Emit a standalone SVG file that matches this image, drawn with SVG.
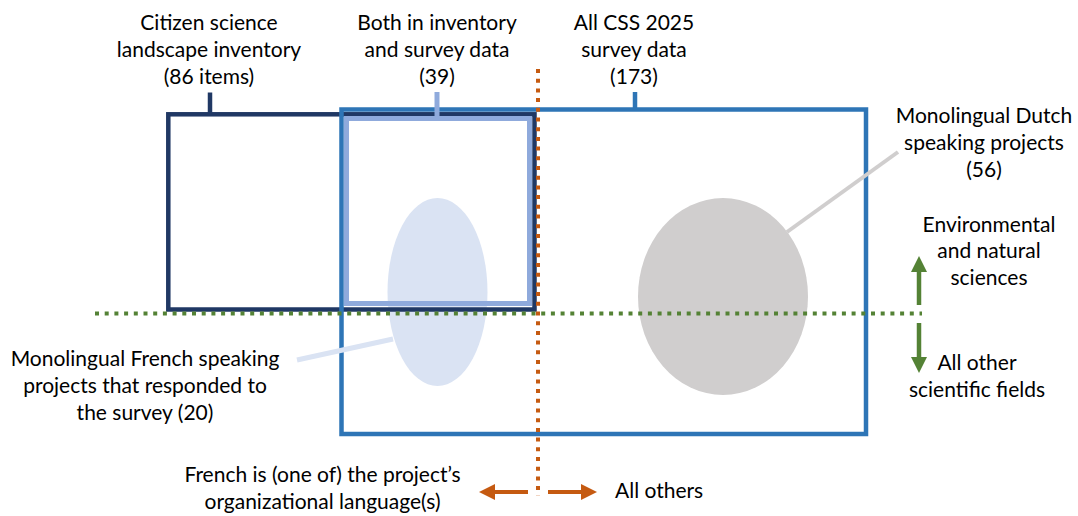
<svg xmlns="http://www.w3.org/2000/svg" width="1078" height="516" viewBox="0 0 1078 516">
  <style>
    text { font-family: Lato, "Open Sans", "Liberation Sans", sans-serif; font-size: 21px; fill: #000; text-anchor: middle; }
    .frame { fill: none; }
    .inv { stroke: #203864; stroke-width: 4.5; }
    .css { stroke: #2e75b6; stroke-width: 4.5; }
    .both { stroke: #8faadc; stroke-width: 5; }
    .divider-h { stroke: #548235; stroke-width: 4; stroke-dasharray: 4 5.7; fill: none; }
    .divider-v { stroke: #c55a11; stroke-width: 4; stroke-dasharray: 4 5.7; fill: none; }
    .arrow-g { stroke: #548235; stroke-width: 4.5; fill: none; }
    .arrow-o { stroke: #c55a11; stroke-width: 4; fill: none; }
  </style>
  <defs>
    <marker id="headGreen" markerUnits="userSpaceOnUse" viewBox="0 0 16 16" refX="0" refY="8" markerWidth="16" markerHeight="16" orient="auto">
      <path d="M0,0 L16,8 L0,16 Z" fill="#548235"/>
    </marker>
    <marker id="headOrange" markerUnits="userSpaceOnUse" viewBox="0 0 16 16" refX="0" refY="8" markerWidth="16" markerHeight="16" orient="auto">
      <path d="M0,0 L16,8 L0,16 Z" fill="#c55a11"/>
    </marker>
  </defs>

  <!-- project sets drawn as ellipses -->
  <g id="french-projects">
    <ellipse cx="437.5" cy="292" rx="50" ry="94" fill="#dae3f3"/>
  </g>
  <g id="dutch-projects">
    <ellipse cx="723" cy="296.5" rx="85" ry="98.5" fill="#d0cece"/>
  </g>

  <!-- data set frames -->
  <g id="inventory">
    <rect class="frame inv" x="168.3" y="114.3" width="366.2" height="195.2"/>
    <line class="inv" x1="210" y1="92.5" x2="210" y2="114"/>
  </g>
  <g id="survey">
    <rect class="frame css" x="341.5" y="109.5" width="524.5" height="324.5"/>
    <line class="css" x1="635" y1="92" x2="635" y2="109"/>
  </g>
  <g id="overlap">
    <rect class="frame both" x="346.5" y="118.5" width="183" height="185"/>
    <line class="both" x1="437" y1="92" x2="437" y2="118"/>
  </g>

  <!-- connectors: leader lines, dividers and axis arrows -->
  <g id="connectors">
    <line x1="297" y1="360" x2="393" y2="339" stroke="#dae3f3" stroke-width="5"/>
    <line x1="787" y1="232" x2="898" y2="152" stroke="#d0cece" stroke-width="4"/>
    <line class="divider-h" x1="95" y1="313.5" x2="922" y2="313.5"/>
    <line class="divider-v" x1="538" y1="69" x2="538" y2="496"/>
    <line class="arrow-g" x1="919" y1="305" x2="919" y2="272" marker-end="url(#headGreen)"/>
    <line class="arrow-g" x1="919" y1="323" x2="919" y2="357" marker-end="url(#headGreen)"/>
    <line class="arrow-o" x1="528" y1="492" x2="495" y2="492" marker-end="url(#headOrange)"/>
    <line class="arrow-o" x1="548" y1="492" x2="581" y2="492" marker-end="url(#headOrange)"/>
  </g>

  <!-- labels -->
  <g id="label-inventory">
    <text x="209" y="30">Citizen science</text>
    <text x="209" y="57">landscape inventory</text>
    <text x="209" y="84">(86 items)</text>
  </g>
  <g id="label-both">
    <text x="437" y="30">Both in inventory</text>
    <text x="437" y="57">and survey data</text>
    <text x="437" y="84">(39)</text>
  </g>
  <g id="label-survey">
    <text x="634" y="30">All CSS 2025</text>
    <text x="634" y="57">survey data</text>
    <text x="634" y="84">(173)</text>
  </g>
  <g id="label-dutch">
    <text x="984" y="123">Monolingual Dutch</text>
    <text x="984" y="149.5">speaking projects</text>
    <text x="984" y="176.5">(56)</text>
  </g>
  <g id="label-env">
    <text x="989" y="231.5">Environmental</text>
    <text x="989" y="258">and natural</text>
    <text x="989" y="285">sciences</text>
  </g>
  <g id="label-other">
    <text x="977" y="370">All other</text>
    <text x="977" y="397">scientific fields</text>
  </g>
  <g id="label-french">
    <text x="145" y="366">Monolingual French speaking</text>
    <text x="145" y="393">projects that responded to</text>
    <text x="145" y="420">the survey (20)</text>
  </g>
  <g id="label-language">
    <text x="322.5" y="482">French is (one of) the project’s</text>
    <text x="322.5" y="509">organizational language(s)</text>
  </g>
  <g id="label-others">
    <text x="615" y="498" style="text-anchor:start">All others</text>
  </g>
</svg>
